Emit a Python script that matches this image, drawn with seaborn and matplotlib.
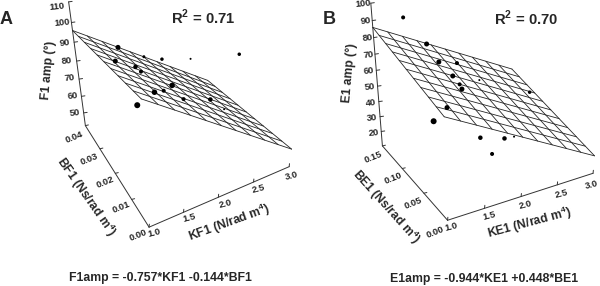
import numpy as np
import pandas as pd
import matplotlib
matplotlib.use('Agg')
import matplotlib.pyplot as plt
import seaborn as sns

# values (points are placed at mid b, depth cannot be read)
kf1 = [1.20, 1.15, 1.53, 1.77, 2.16, 2.84, 1.41, 1.48, 1.90, 1.65, 1.78, 2.06, 2.45, 2.66, 1.40]
f1_amp = [107.5, 101.8, 97.7, 92.6, 86.4, 77.6, 94.7, 91.2, 77.2, 77.8, 76.4, 67.2, 60.4, 51.4, 75.1]
f1_size = [5, 5, 3, 3.5, 2, 3.5, 4.5, 4, 5.5, 5.5, 4, 4, 4.5, 2, 6]
ke1 = [1.00, 1.28, 1.43, 1.67, 1.61, 1.70, 1.73, 1.97, 2.68, 1.52, 1.33, 1.98, 2.33, 2.47, 2.15]
e1_amp = [107.4, 89.6, 77.6, 73.9, 67.2, 61.1, 57.9, 60.1, 43.4, 49.5, 43.7, 24.2, 18.8, 18.0, 11.1]
e1_size = [4, 5, 5, 4, 5, 4, 5, 2, 3.5, 5, 6, 4.5, 4.5, 2, 4]

# fitted plane: amp at (k=1, b=0), slope per k, slope per b
plane_a = (112, -30, -400)
plane_b = (72, -25.5, 93.3)

# calibration of the view: k, b, z, pixel x, pixel y
view_a = [(1, 0, 42, 148, 228), (1.5, 0, 42, 184.3, 210.7), (2, 0, 42, 220, 195), (2.5, 0, 42, 254.3, 181.7),
          (3, 0, 42, 287, 170), (1, .01, 42, 131.7, 199.3), (1, .02, 42, 115, 173.3), (1, .03, 42, 99.3, 149.3),
          (1, .04, 42, 86, 127), (1, .04, 110, 69, 2), (1, .04, 100, 71.7, 22.7), (1, .04, 90, 75, 42.3),
          (1, .04, 80, 77, 60.7), (1, .04, 70, 79, 78.3), (1, .04, 60, 81, 95.7), (1, .04, 50, 83.5, 113.3),
          (1, 0, 112, 140, 100), (3, 0, 52, 293, 148), (1, .04, 96, 72, 30), (3, .04, 36, 207, 80)]
view_b = [(1, 0, 10, 145.7, 220), (1.5, 0, 10, 184.3, 208.3), (2, 0, 10, 221, 196.7), (2.5, 0, 10, 258.3, 184),
          (3, 0, 10, 295, 173.3), (1, .05, 10, 125, 192.3), (1, .10, 10, 105, 168.3), (1, .15, 10, 81.7, 145.7),
          (1, .15, 100, 71.7, 2.7), (1, .15, 90, 72.8, 20), (1, .15, 80, 73.9, 37.7), (1, .15, 70, 75, 53.3),
          (1, .15, 60, 76.1, 70), (1, .15, 50, 77.2, 86), (1, .15, 40, 78.3, 101.7), (1, .15, 30, 79.4, 117.3),
          (1, .15, 20, 80.5, 132.7), (1, 0, 72, 142.7, 119), (3, 0, 21, 293.3, 155.3), (1, .15, 86, 73.3, 27.3),
          (3, .15, 35, 210.7, 70)]


def fit_view(rows, b_max):
    A = []
    for k, b, z, u, v in rows:
        X = [k, b / b_max, z / 100, 1]
        A.append(X + [0, 0, 0, 0] + [-u * c for c in X])
        A.append([0, 0, 0, 0] + X + [-v * c for c in X])
    return np.linalg.svd(np.array(A, float))[2][-1].reshape(3, 4)


def project(P, k, b, z, b_max):
    k, b, z = np.broadcast_arrays(np.asarray(k, float), np.asarray(b, float), np.asarray(z, float))
    q = [P[i, 0] * k + P[i, 1] * b / b_max + P[i, 2] * z / 100 + P[i, 3] for i in range(3)]
    return q[0] / q[2], q[1] / q[2]


def draw_panel(ax, dx, view, b_max, z_min, z_ticks, b_ticks, plane, k_pts, z_pts, sizes, labels):
    P = fit_view(view, b_max)
    edge = dict(color='#333333', lw=0.7, solid_capstyle='round')

    # axes frame
    z_top = max(z_ticks)
    for k, b, z in [([1, 3], 0, z_min), (1, [0, b_max], z_min), (1, b_max, [z_min, z_top])]:
        x, y = project(P, k, b, z, b_max)
        ax.plot(x + dx, y, **edge)
    for k in [1, 1.5, 2, 2.5, 3]:
        x, y = project(P, k, 0, z_min, b_max)
        ax.plot([x + dx, x + dx + 0.3], [y, y - 3], **edge)
    for b in b_ticks:
        x, y = project(P, 1, b, z_min, b_max)
        ax.plot([x + dx, x + dx + 3], [y, y - 0.7], **edge)
    for z in z_ticks:
        x, y = project(P, 1, b_max, z, b_max)
        ax.plot([x + dx, x + dx + 3.5], [y, y - 0.5], **edge)

    # fitted plane as a mesh
    kk, bb = np.meshgrid(np.linspace(1, 3, 11), np.linspace(0, b_max, 11))
    zz = plane[0] + plane[1] * (kk - 1) + plane[2] * bb
    x, y = project(P, kk, bb, zz, b_max)
    ax.plot(x.T + dx, y.T, color='#252525', lw=0.6)
    ax.plot(x + dx, y, color='#252525', lw=0.6)

    # measured points
    px, py = project(P, k_pts, b_max / 2, z_pts, b_max)
    df = pd.DataFrame({'x': px + dx, 'y': py, 'd': (np.array(sizes) * 0.72) ** 2})
    sns.scatterplot(data=df, x='x', y='y', s=df['d'].values, color='black', edgecolor='none', ax=ax,
                    legend=False, zorder=5)

    for text, x, y, rot, size in labels:
        ax.text(x + dx, y, text, rotation=rot, fontsize=size, ha='center', va='center',
                rotation_mode='anchor', fontweight='bold')


sns.set_style('white')
plt.rcParams['font.family'] = ['Liberation Sans', 'DejaVu Sans']
plt.rcParams['mathtext.fontset'] = 'custom'
plt.rcParams['mathtext.bf'] = 'Liberation Sans:bold'
plt.rcParams['mathtext.rm'] = 'Liberation Sans:bold'

fig = plt.figure(figsize=(6, 2.86), dpi=100)
ax = fig.add_axes([0, 0, 1, 1])

ts = 6.8
ls = 8.7
labels_a = [(t, x, y, 6, ts) for t, x, y in [('110', 57, 7), ('100', 62, 23), ('90', 65, 43), ('80', 67, 61),
                                              ('70', 70, 78), ('60', 73, 96), ('50', 75, 113)]]
labels_a += [(t, x, y, 22, ts) for t, x, y in [('0.04', 74, 137), ('0.03', 89, 159), ('0.02', 105, 182),
                                                ('0.01', 121, 207), ('0.00', 138, 235)]]
labels_a += [(t, x, y, 15, ts) for t, x, y in [('1.0', 154, 233), ('1.5', 189, 218), ('2.0', 225, 204),
                                                ('2.5', 258, 189), ('3.0', 291, 176)]]
labels_a += [('F1 amp (°)', 48.7, 70, 85, ls), ('BF1 (Ns/rad m$^{4}$)', 86, 197, -55, ls),
             ('KF1 (N/rad m$^{4}$)', 229, 223, 20, ls), ('R$^{2}$ = 0.71', 203, 17, 0, 10.7),
             ('A', 6, 20, 0, 13), ('F1amp = -0.757*KF1 -0.144*BF1', 160, 278, 0, 8.8)]
labels_b = [(t, x, y, 6, ts) for t, x, y in [('100', 63, 4), ('90', 66, 21), ('80', 68, 38), ('70', 69, 55),
                                              ('60', 69, 71), ('50', 70, 87), ('40', 71, 103), ('30', 72, 118),
                                              ('20', 74, 133)]]
labels_b += [(t, x, y, 22, ts) for t, x, y in [('0.15', 73, 157), ('0.10', 93, 178), ('0.05', 113, 203),
                                                ('0.00', 135, 232)]]
labels_b += [(t, x, y, 15, ts) for t, x, y in [('1.0', 151, 227), ('1.5', 189, 216), ('2.0', 225, 205),
                                                ('2.5', 261, 194), ('3.0', 291, 185)]]
labels_b += [('E1 amp (°)', 50, 73, 85, ls), ('BE1 (Ns/rad m$^{4}$)', 86, 207, -48, ls),
             ('KE1 (N/rad m$^{4}$)', 230, 223, 15, ls), ('R$^{2}$ = 0.70', 226, 18, 0, 10.7),
             ('B', 29, 19, 0, 13), ('E1amp = -0.944*KE1 +0.448*BE1', 184, 279, 0, 8.8)]

draw_panel(ax, 0, view_a, 0.04, 42, [50, 60, 70, 80, 90, 100, 110], [.01, .02, .03, .04], plane_a,
           kf1, f1_amp, f1_size, labels_a)
draw_panel(ax, 300, view_b, 0.15, 10, [20, 30, 40, 50, 60, 70, 80, 90, 100], [.05, .10, .15], plane_b,
           ke1, e1_amp, e1_size, labels_b)
ax.set_xlim(0, 600)
ax.set_ylim(286, 0)
ax.axis('off')

fig.savefig('out.png', dpi=100)
